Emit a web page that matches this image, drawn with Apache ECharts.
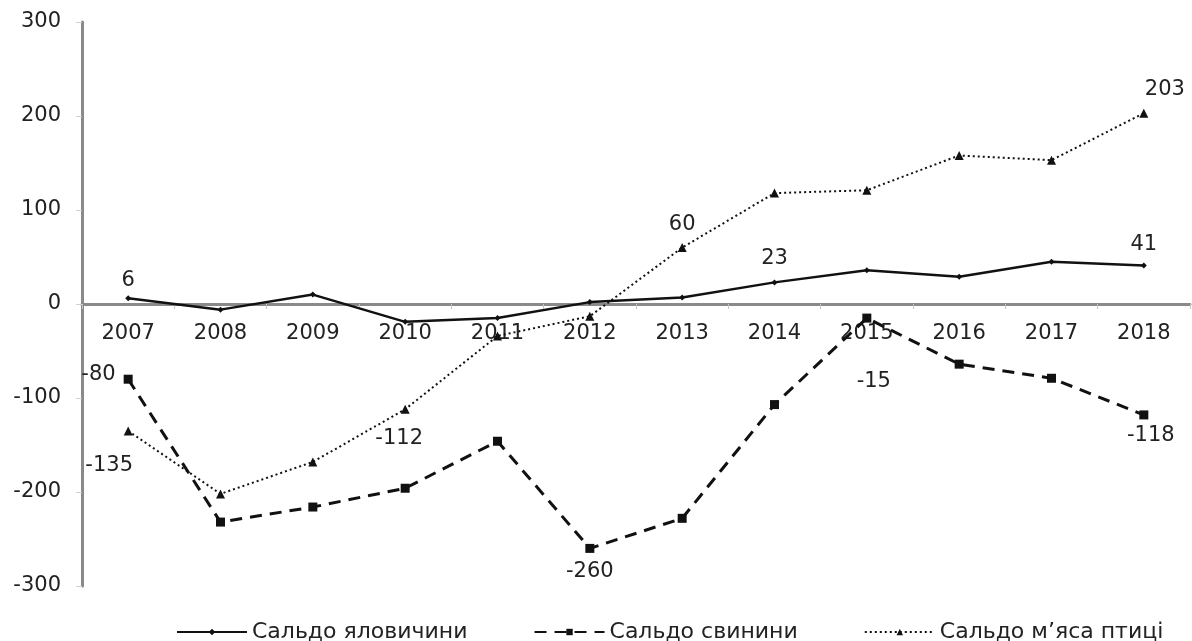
<!DOCTYPE html>
<html>
<head>
<meta charset="utf-8">
<script src="https://cdn.jsdelivr.net/npm/echarts@6/dist/echarts.min.js"></script>
<style>
  html, body { margin: 0; padding: 0; background: #fff; }
  #chart { width: 1192px; height: 641px; }
</style>
</head>
<body>
<div id="chart"></div>
<script>
// Years on the category axis
const years = ['2007', '2008', '2009', '2010', '2011', '2012', '2013', '2014', '2015', '2016', '2017', '2018'];
// Trade balance by product
const beef = [6, -6, 10, -19, -15, 2, 7, 23, 36, 29, 45, 41];
const pork = [-80, -232, -216, -196, -146, -260, -228, -107, -15, -64, -79, -118];
const poultry = [-135, -202, -168, -112, -34, -13, 60, 118, 121, 158, 153, 203];
// Series names
const names = ['Сальдо яловичини', 'Сальдо свинини', 'Сальдо м\u2019яса птиці'];
// Value axis ticks
const yTicks = { min: -300, max: 300, step: 100 };

const txt = '#222';
const font = 'DejaVu Sans';
const fs = 21;

// Attach a value label to selected points of a series
function withLabels(values, spots) {
  return values.map((v, i) => {
    if (!(i in spots)) return v;
    return { value: v, label: Object.assign({ show: true }, spots[i]) };
  });
}

const gridTop = 22, gridBottom = 55;
const gridH = 641 - gridTop - gridBottom;
// place the category axis on the zero line
const zeroOffset = -gridH * (0 - yTicks.min) / (yTicks.max - yTicks.min);

const chart = echarts.init(document.getElementById('chart'));
chart.setOption({
  animation: false,
  textStyle: { fontFamily: font, color: txt },
  grid: { left: 82, right: 2, top: gridTop, bottom: gridBottom },
  legend: {
    top: 616,
    left: 171,
    itemWidth: 70,
    itemHeight: 8,
    itemGap: 66,
    textStyle: { fontSize: 22, color: txt, fontFamily: font },
    data: names
  },
  xAxis: {
    type: 'category',
    data: years,
    boundaryGap: true,
    offset: zeroOffset,
    axisLine: { onZero: false, lineStyle: { color: '#8a8a8a', width: 3 } },
    axisTick: { show: true, length: 5, lineStyle: { color: '#c4c4c4', width: 1 } },
    axisLabel: { fontSize: fs, color: txt, margin: 19, fontFamily: font }
  },
  yAxis: {
    type: 'value',
    min: yTicks.min,
    max: yTicks.max,
    interval: yTicks.step,
    splitLine: { show: false },
    axisLine: { show: true, lineStyle: { color: '#8a8a8a', width: 3 } },
    axisTick: { show: true, length: 6, lineStyle: { color: '#d0d0d0', width: 1 } },
    axisLabel: { fontSize: fs, color: txt, margin: 21, fontFamily: font }
  },
  series: [
    {
      name: names[0],
      type: 'line',
      data: withLabels(beef, {
        0: { position: 'top', distance: 4 },
        7: { position: 'top', distance: 10 },
        11: { position: 'top', distance: 7 }
      }),
      symbol: 'diamond',
      symbolSize: 6,
      lineStyle: { color: '#111', width: 2.5, type: 'solid' },
      itemStyle: { color: '#111' },
      label: { fontSize: fs, color: txt, fontFamily: font },
      z: 4
    },
    {
      name: names[1],
      type: 'line',
      data: withLabels(pork, {
        0: { position: 'left', distance: 8, offset: [0, -5] },
        5: { position: 'bottom', distance: 8 },
        8: { position: 'bottom', distance: 48, offset: [7, 0] },
        11: { position: 'bottom', distance: 6, offset: [7, 0] }
      }),
      symbol: 'rect',
      symbolSize: 9,
      lineStyle: { color: '#111', width: 3, type: [12, 8] },
      itemStyle: { color: '#111' },
      label: { fontSize: fs, color: txt, fontFamily: font },
      z: 3
    },
    {
      name: names[2],
      type: 'line',
      data: withLabels(poultry, {
        0: { position: 'bottom', distance: 20, offset: [-19, 0] },
        3: { position: 'bottom', distance: 14, offset: [-6, 0] },
        6: { position: 'top', distance: 8 },
        11: { position: 'top', distance: 9, offset: [21, 0] }
      }),
      symbol: 'triangle',
      symbolSize: 9,
      lineStyle: { color: '#111', width: 2, type: [2, 3] },
      itemStyle: { color: '#111' },
      label: { fontSize: fs, color: txt, fontFamily: font },
      z: 3
    }
  ]
});
</script>
</body>
</html>
